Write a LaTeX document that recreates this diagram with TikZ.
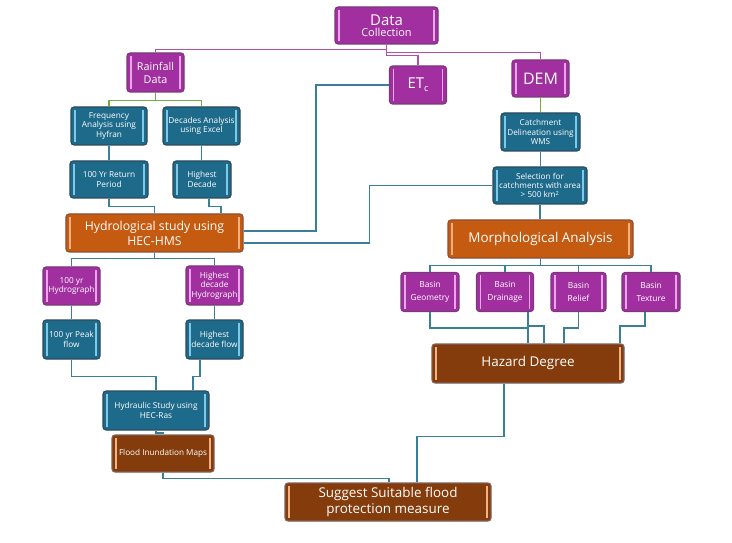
\documentclass[tikz,border=0pt]{standalone}
\usepackage{fontspec}
\setmainfont{Open Sans}
\definecolor{purp}{HTML}{A22FA0}
\definecolor{purpb}{HTML}{7A3A7A}
\definecolor{purps}{HTML}{E9A6E9}
\definecolor{teal}{HTML}{1E6A8A}
\definecolor{tealb}{HTML}{2C4B5C}
\definecolor{teals}{HTML}{7FC8E8}
\definecolor{oran}{HTML}{C55A11}
\definecolor{oranb}{HTML}{8C5034}
\definecolor{brwn}{HTML}{843C0C}
\definecolor{brwnb}{HTML}{7E6256}
\definecolor{lights}{HTML}{F4B183}
\definecolor{lteal}{HTML}{3A7F95}
\definecolor{lpurp}{HTML}{B04FB0}
\definecolor{lgreen}{HTML}{70AD47}
\tikzset{
  box/.style={draw, rounded corners=3bp, line width=1.1bp, text=white, align=center, inner sep=0.5bp,
    path picture={\draw[#1, line width=1.1bp]
      ([xshift=4bp,yshift=-3bp]path picture bounding box.north west) -- ([xshift=4bp,yshift=3bp]path picture bounding box.south west)
      ([xshift=-4bp,yshift=-3bp]path picture bounding box.north east) -- ([xshift=-4bp,yshift=3bp]path picture bounding box.south east);}},
  pbox/.style={box=purps, fill=purp, draw=purpb},
  tbox/.style={box=teals, fill=teal, draw=tealb},
  obox/.style={box=lights, fill=oran, draw=oranb},
  bbox/.style={box=lights, fill=brwn, draw=brwnb},
  tl/.style={draw=lteal, line width=1.2bp},
  pl/.style={draw=lpurp, line width=1.2bp},
  gl/.style={draw=lgreen, line width=1.2bp},
  sm/.style={font=\fontsize{8.3}{9.6}\selectfont},
  xs/.style={font=\fontsize{8.2}{9.4}\selectfont},
  bs/.style={font=\fontsize{8.4}{9.6}\selectfont},
  big/.style={font=\fontsize{12.3}{15}\selectfont},
  bigg/.style={font=\fontsize{13.5}{15.5}\selectfont},
}
\begin{document}
\begin{tikzpicture}[x=1bp,y=-1bp]
\useasboundingbox[fill=white] (0,0) rectangle (732,543);
% nodes
\node[pbox, minimum width=103bp, minimum height=37bp] (dc) at (386.5,25.5)
  {{\fontsize{15}{16}\selectfont Data}\\[-1bp]{\fontsize{11}{12}\selectfont Collection}};
\node[pbox, minimum width=57bp, minimum height=39bp, font=\fontsize{10.8}{13}\selectfont] (rain) at (155.5,72.5) {Rainfall\\Data};
\node[pbox, minimum width=57bp, minimum height=38bp, font=\fontsize{15}{16}\selectfont] (et) at (418,85) {ET\raisebox{-3bp}{\fontsize{9}{9}\selectfont c}};
\node[pbox, minimum width=57bp, minimum height=37bp, font=\fontsize{16}{18}\selectfont] (dem) at (540.5,78.5) {DEM};
\node[tbox, sm, minimum width=76bp, minimum height=38bp] (freq) at (109,126) {Frequency\\Analysis using\\Hyfran};
\node[tbox, sm, minimum width=77bp, minimum height=38bp] (dec) at (201.5,126) {Decades Analysis\\using Excel};
\node[tbox, sm, minimum width=78bp, minimum height=37bp] (ret) at (109,179.5) {100 Yr Return\\Period};
\node[tbox, sm, minimum width=58bp, minimum height=37bp] (hdec) at (202,179.5) {Highest\\Decade};
\node[obox, big, minimum width=177bp, minimum height=38bp] (hyd) at (154.5,233) {Hydrological study using\\HEC-HMS};
\node[tbox, xs, minimum width=79bp, minimum height=38bp] (cat) at (540.5,132) {Catchment\\Delineation using\\WMS};
\node[tbox, xs, minimum width=94bp, minimum height=37bp] (sel) at (540,185.5) {Selection for\\catchments with area\\> 500 km\textsuperscript{2}};
\node[obox, bigg, minimum width=185bp, minimum height=38bp] (mor) at (540.5,239) {Morphological Analysis};
\node[pbox, sm, minimum width=57bp, minimum height=38bp] (h100) at (71.5,286) {100 yr\\Hydrograph};
\node[pbox, sm, minimum width=57bp, minimum height=39bp] (hdh) at (214.5,285.5) {Highest\\decade\\Hydrograph};
\node[tbox, sm, minimum width=57bp, minimum height=39bp] (pk) at (71.5,339.5) {100 yr Peak\\flow};
\node[tbox, sm, minimum width=57bp, minimum height=39bp] (hdf) at (214.5,339.5) {Highest\\decade flow};
\node[tbox, sm, minimum width=106bp, minimum height=39bp] (hra) at (156,410.5) {Hydraulic Study using\\HEC-Ras};
\node[bbox, font=\fontsize{8.2}{9}\selectfont, minimum width=102bp, minimum height=37bp] (fim) at (163,453.5) {Flood Inundation Maps};
\node[bbox, bigg, minimum width=206bp, minimum height=38bp] (sug) at (388,502) {Suggest Suitable flood\\protection measure};
\node[bbox, bigg, minimum width=192bp, minimum height=39bp] (haz) at (528,363.5) {Hazard Degree};
\node[pbox, bs, minimum width=58bp, minimum height=39bp] (bg) at (430,292) {Basin\\[4bp]Geometry};
\node[pbox, bs, minimum width=57bp, minimum height=39bp] (bd) at (505,292) {Basin\\[4bp]Drainage};
\node[pbox, bs, minimum width=55bp, minimum height=39bp] (br) at (578.5,292) {Basin\\[4bp]Relief};
\node[pbox, bs, minimum width=58bp, minimum height=39bp] (bt) at (651,292) {Basin\\[4bp]Texture};
% purple connectors
\draw[pl] (dc.south) -- ++(0,5) -| (rain.north);
\draw[pl] (dc.south) -- ++(0,8) -| (dem.north);
\draw[pl] (dc.south) -- ++(0,11) -| (et.north);
% green
\draw[gl] (rain.south) -- ++(0,8) -| (freq.north);
\draw[gl] (rain.south) -- ++(0,8) -| (dec.north);
\draw[gl] (dem.south) -- (cat.north);
% teal
\draw[tl] (freq.south) -- (ret.north);
\draw[tl] (dec.south) -- (dec.south |- hdec.north);
\draw[tl] (ret.south) -- ++(0,8) -| (hyd.north);
\draw[tl] ([xshift=7bp]hdec.south) -- ++(0,8) -| ([xshift=66.5bp]hyd.north);
\draw[tl] (et.west) -- ++(-73,0) |- ([yshift=2bp]hyd.east);
\draw[tl] (sel.west) -- ++(-123,0) |- ([yshift=-10bp]hyd.east);
\draw[tl] (cat.south) -- (cat.south |- sel.north);
\draw[tl] (sel.south) -- (sel.south |- mor.north);
\draw[tl] (mor.south) -- ++(0,7) -| (bg.north);
\draw[tl] (mor.south) -- ++(0,7) -| (bd.north);
\draw[tl] (mor.south) -- ++(0,7) -| (br.north);
\draw[tl] (mor.south) -- ++(0,7) -| (bt.north);
\draw[tl] (bg.south) -- ++(0,16) -| (haz.north);
\draw[tl] ([xshift=23bp]bd.south) -- ++(0,14) -| ([xshift=16bp]haz.north);
\draw[tl] (br.south) -- ++(0,16) -| ([xshift=36bp]haz.north);
\draw[tl] ([xshift=-6bp]bt.south) -- ++(0,14) -| ([xshift=92bp]haz.north);
\draw[tl] ([xshift=-24bp]haz.south) -- ++(0,53) -| ([xshift=29bp]sug.north);
\draw[tl] (fim.south) -- ++(0,6) -| ([xshift=1bp]sug.north);
\draw[tl] (hyd.south) -- ++(0,6) -| (h100.north);
\draw[tl] (hyd.south) -- ++(0,6) -| (hdh.north);
\draw[tl] (h100.south) -- (pk.north);
\draw[tl] (hdh.south) -- (hdf.north);
\draw[tl] (pk.south) -- ++(0,17) -| (hra.north);
\draw[tl] ([xshift=-14.5bp]hdf.south) -- ++(0,17) -| ([xshift=37bp]hra.north);
\draw[tl] (hra.south) -- ++(0,2.5) -| (fim.north);
\end{tikzpicture}
\end{document}
